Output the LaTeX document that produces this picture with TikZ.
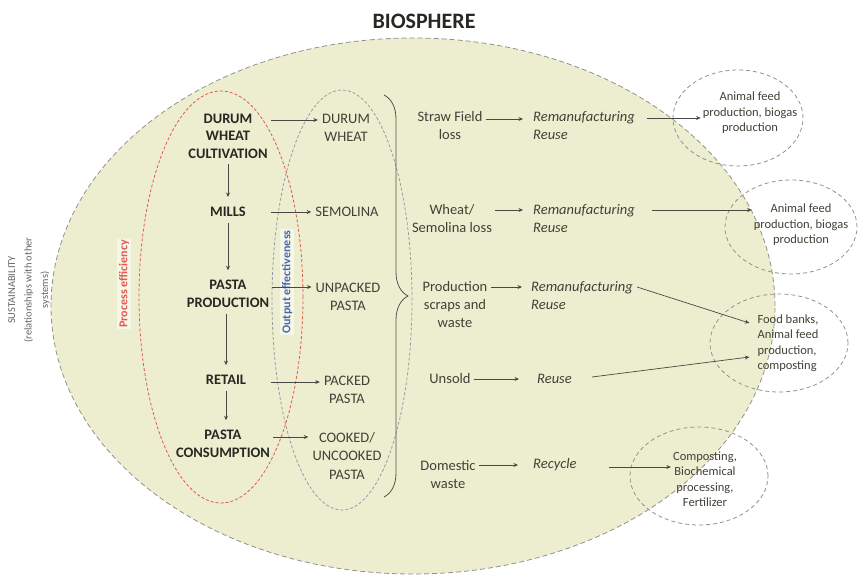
\documentclass[tikz,border=0pt]{standalone}
\usepackage{fontspec}
\setmainfont{Carlito}
\usetikzlibrary{arrows.meta,decorations.pathreplacing,shapes.geometric}

\definecolor{bio}{RGB}{237,238,207}
\definecolor{ink}{RGB}{40,40,35}
\definecolor{midink}{RGB}{65,65,55}
\definecolor{edge}{RGB}{145,145,140}
\definecolor{procred}{RGB}{225,90,80}
\definecolor{outblue}{RGB}{75,105,170}
\definecolor{outgray}{RGB}{150,155,168}

\begin{document}
\begin{tikzpicture}[x=1pt,y=-1pt,
  arr/.style={draw=ink!85, line width=0.7pt, -{Stealth[length=4.5pt,width=4pt]}},
  stage/.style={font=\fontsize{14.5}{17.5}\selectfont\bfseries, text=ink, align=center, inner sep=3pt},
  output/.style={font=\fontsize{14.5}{18.5}\selectfont, text=midink, align=center, inner sep=4pt},
  loss/.style={font=\fontsize{14.5}{18}\selectfont, text=midink, align=center, inner sep=3pt},
  fate/.style={font=\fontsize{14.5}{18}\selectfont\itshape, text=midink, align=left, anchor=west, inner sep=0pt},
  dest/.style={font=\fontsize{12.5}{15.5}\selectfont, text=midink, inner sep=2pt},
  ring/.style={ellipse, draw=edge, dash pattern=on 4pt off 3pt, line width=0.8pt, inner sep=0pt},
  down/.style={arr, shorten <=3pt, shorten >=7pt},
]
\useasboundingbox (0,0) rectangle (860,578);

% title
\node[font=\fontsize{22}{26}\selectfont\bfseries, text=ink] (title) at (424,21) {BIOSPHERE};

% biosphere and the two inner boundaries
\node[ellipse, fill=bio, draw=edge, dash pattern=on 5pt off 3pt, line width=0.8pt,
      minimum width=724pt, minimum height=536pt, inner sep=0pt] (biosphere) at (413,306) {};
\node[ellipse, draw=procred, dash pattern=on 3pt off 2pt, line width=0.8pt,
      minimum width=164pt, minimum height=412pt, inner sep=0pt] (process) at (221,297) {};
\node[ellipse, draw=outgray, dash pattern=on 3pt off 2pt, line width=0.8pt,
      minimum width=140pt, minimum height=420pt, inner sep=0pt] (outputs) at (342,300) {};

% side labels
\node[rotate=90, align=center, font=\fontsize{10.5}{16.5}\selectfont, text=black!60] (sust) at (29,290)
  {SUSTAINABILITY\\(relationships with other\\systems)};
\node[rotate=90, font=\fontsize{12}{14}\selectfont\bfseries, text=procred, fill=white,
      fill opacity=0.55, text opacity=1, inner sep=1.5pt] (pe) at (124,284) {Process efficiency};
\node[rotate=90, font=\fontsize{12}{14}\selectfont\bfseries, text=outblue, fill=white,
      fill opacity=0.55, text opacity=1, inner sep=1.5pt] (oe) at (287,282) {Output effectiveness};

% supply chain stages
\node[stage] (cult)   at (228,136) {DURUM\\WHEAT\\CULTIVATION};
\node[stage] (mills)  at (228,212) {MILLS};
\node[stage] (prod)   at (228,294) {PASTA\\PRODUCTION};
\node[stage] (retail) at (226,380) {RETAIL};
\node[stage] (cons)   at (223,444) {PASTA\\CONSUMPTION};

% stage outputs
\node[output] (dw)   at (346,128) {DURUM\\WHEAT};
\node[output] (sem)  at (347,212) {SEMOLINA};
\node[output] (unp)  at (348,297) {UNPACKED\\PASTA};
\node[output] (pack) at (347,390) {PACKED\\PASTA};
\node[output] (cook) at (347,456) {COOKED/\\UNCOOKED\\PASTA};

% brace grouping the outputs
\draw[draw=ink!80, line width=0.8pt, decorate, decoration={brace, amplitude=24pt}]
  (384,95) -- (384,497);

% losses
\node[loss] (sf)  at (450,126) {Straw Field\\loss};
\node[loss] (ws)  at (452,219) {Wheat/\\Semolina loss};
\node[loss] (ps)  at (455,305) {Production\\scraps and\\waste};
\node[loss] (un)  at (450,379) {Unsold};
\node[loss] (dom) at (448,475) {Domestic\\waste};

% treatments
\node[fate] (r1) at (533,126) {Remanufacturing\\Reuse};
\node[fate] (r2) at (533,219) {Remanufacturing\\Reuse};
\node[fate] (r3) at (531,296) {Remanufacturing\\Reuse};
\node[fate] (ru) at (537,379) {Reuse};
\node[fate] (rc) at (533,465) {Recycle};

% destinations
\node[ring, minimum width=130pt, minimum height=96pt] (e1) at (738,118) {};
\node[ring, minimum width=132pt, minimum height=94pt] (e2) at (791,227) {};
\node[ring, minimum width=138pt, minimum height=98pt] (e3) at (779,343) {};
\node[ring, minimum width=138pt, minimum height=98pt] (e4) at (699,476) {};
\node[dest, align=center] (t1) at (750,113) {Animal feed\\production, biogas\\production};
\node[dest, align=center] (t2) at (801,225) {Animal feed\\production, biogas\\production};
\node[dest, align=left]   (t3) at (788,343) {Food banks,\\Animal feed\\production,\\composting};
\node[dest, align=center] (t4) at (705,479) {Composting,\\Biochemical\\processing,\\Fertilizer};

% stage to stage
\draw[down] (cult.south) -- (cult.south |- mills.north);
\draw[down] (mills.south) -- (mills.south |- prod.north);
\draw[down] (prod.south -| retail.north) -- (retail.north);
\draw[down] (retail.south) -- (retail.south |- cons.north);

% stage to output
\draw[arr] ([yshift=16pt]cult.east) -- ([yshift=16pt]cult.east -| dw.west);
\draw[arr] (mills.east -| cult.east) -- (mills.east -| sem.west);
\draw[arr] ([yshift=7pt]prod.east) -- ([yshift=7pt]prod.east -| unp.west);
\draw[arr] ([yshift=-2pt]retail.east -| cult.east) -- ([yshift=-2pt]retail.east -| pack.west);
\draw[arr] ([yshift=7pt]cons.east) -- ([yshift=7pt]cons.east -| cook.west);

% loss to treatment
\draw[arr] ([yshift=7pt]sf.east) -- ([yshift=7pt,xshift=-10pt]sf.east -| r1.west);
\draw[arr] ([yshift=9pt]ws.east) -- ([yshift=9pt,xshift=-10pt]ws.east -| r2.west);
\draw[arr] ([yshift=18pt]ps.east) -- ([yshift=18pt,xshift=-9pt]ps.east -| r3.west);
\draw[arr] (un.east) -- ([xshift=-18pt]un.east -| ru.west);
\draw[arr] ([yshift=10pt]dom.east) -- ([yshift=10pt,xshift=-15pt]dom.east -| rc.west);

% treatment to destination
\draw[arr] ([yshift=8pt,xshift=12pt]r1.east) -- ([yshift=8pt]r1.east -| t1.west);
\draw[arr] ([yshift=9pt,xshift=17pt]r2.east) -- ([yshift=9pt]r2.east -| t2.west);
\draw[arr] ([yshift=9pt,xshift=4pt]r3.east) -- ([yshift=20pt,xshift=-6pt]t3.west);
\draw[arr] ([yshift=2pt,xshift=20pt]ru.east) -- ([yshift=-14pt,xshift=-6pt]t3.west);
\draw[arr] ([yshift=-2pt,xshift=32pt]rc.east) -- ([yshift=-2pt]rc.east -| t4.west);
\end{tikzpicture}
\end{document}
